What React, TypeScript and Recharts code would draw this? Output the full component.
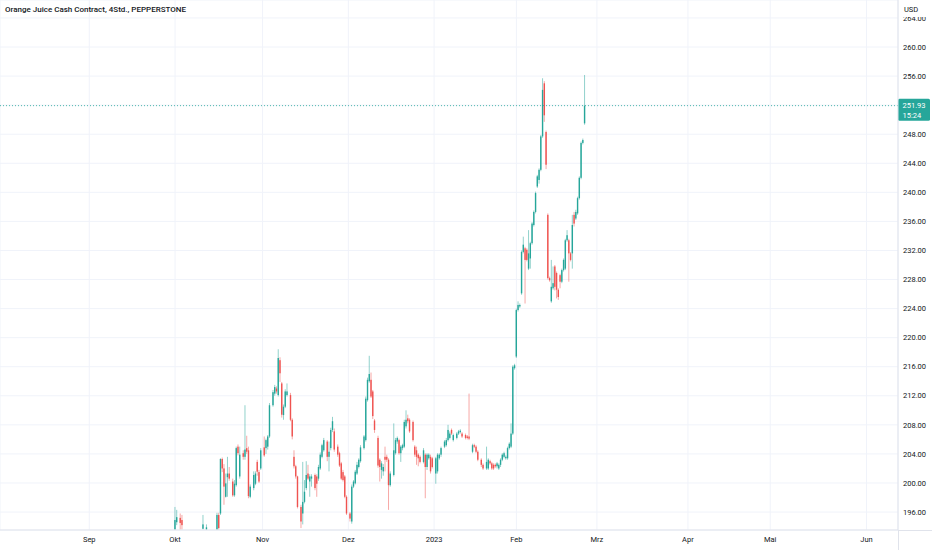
import React from 'react';
import { ComposedChart, Bar, XAxis, YAxis, CartesianGrid, ReferenceLine } from 'recharts';

// [bar number, open, high, low, close] on 4h bars
const octCandles = [
    [100, 193.6, 196.7, 193.6, 194.9],
    [101, 194.6, 196.3, 194.2, 195.3],
    [103, 195.2, 195.8, 193.6, 194.5],
    [104, 194.9, 195.6, 193.6, 194.2],
    [116, 193.7, 195.6, 193.6, 194.3],
    [118, 193.6, 194.3, 193.6, 193.9],
    [124, 193.6, 195.9, 193.6, 195.6],
    [125, 195.6, 195.9, 193.6, 193.8],
    [126, 195.8, 203.4, 195.6, 203.3],
    [127, 203.3, 203.5, 201.5, 202.0],
    [128, 202.0, 202.6, 197.0, 199.5],
    [129, 198.1, 201.3, 198.0, 199.95],
    [130, 200.8, 203.6, 198.1, 201.3],
    [131, 201.3, 202.2, 200.3, 200.6],
    [133, 200.2, 200.6, 198.1, 198.3],
    [134, 198.3, 200.4, 198.1, 199.9],
    [135, 199.7, 205.0, 199.5, 204.8],
    [136, 205.0, 205.3, 203.8, 204.1],
    [137, 200.9, 205.0, 200.6, 203.9],
    [139, 204.1, 204.5, 203.2, 203.6],
    [140, 203.6, 210.7, 203.2, 204.6],
    [141, 204.8, 206.5, 204.0, 204.3],
    [142, 204.5, 205.0, 197.9, 198.2],
    [143, 198.1, 199.8, 197.9, 199.5],
    [145, 199.3, 201.6, 199.0, 201.1],
    [146, 199.9, 201.6, 199.7, 201.3],
    [147, 202.9, 203.2, 201.0, 201.55],
    [148, 201.5, 201.8, 200.0, 200.2],
    [149, 202.0, 204.8, 201.8, 204.5],
];

const novCandles = [
    [151, 204.9, 206.4, 203.6, 203.8],
    [152, 204.8, 206.1, 204.0, 205.9],
    [153, 205.0, 206.6, 204.6, 206.4],
    [154, 206.4, 211.0, 206.2, 210.7],
    [156, 210.7, 212.8, 210.5, 212.5],
    [157, 212.3, 213.5, 212.0, 213.2],
    [158, 213.0, 213.3, 212.3, 212.6],
    [159, 212.1, 218.4, 211.9, 217.2],
    [160, 216.9, 217.3, 213.9, 215.1],
    [161, 213.7, 213.9, 209.0, 209.4],
    [162, 209.35, 210.8, 208.7, 210.5],
    [163, 210.5, 212.9, 210.3, 212.6],
    [164, 212.1, 213.7, 211.9, 212.6],
    [166, 212.1, 212.4, 208.5, 208.7],
    [167, 208.7, 208.9, 206.0, 206.4],
    [168, 203.6, 204.5, 202.0, 202.3],
    [169, 202.3, 202.5, 200.6, 200.9],
    [170, 200.9, 201.0, 196.5, 196.7],
    [172, 196.7, 197.0, 193.8, 194.7],
    [173, 195.8, 202.9, 194.3, 197.4],
    [174, 197.4, 200.4, 197.2, 198.8],
    [175, 199.3, 203.0, 199.0, 201.1],
    [176, 201.3, 202.5, 200.4, 200.6],
    [177, 200.2, 201.2, 198.1, 200.9],
    [178, 200.6, 201.2, 199.5, 200.9],
    [180, 201.1, 201.3, 199.0, 199.3],
    [181, 200.9, 201.2, 198.1, 199.9],
    [182, 200.6, 202.5, 200.3, 202.2],
    [183, 202.0, 204.2, 201.8, 203.9],
    [184, 203.6, 205.4, 203.4, 205.2],
    [185, 204.5, 206.2, 204.3, 205.9],
    [187, 205.7, 205.9, 203.0, 203.6],
    [188, 203.6, 205.7, 201.6, 204.3],
    [189, 204.8, 207.6, 204.5, 207.3],
    [190, 207.3, 209.1, 207.0, 208.5],
    [191, 207.1, 207.5, 204.3, 204.6],
    [193, 205.0, 205.3, 203.6, 203.9],
    [194, 204.1, 204.3, 202.2, 202.4],
    [195, 202.7, 202.9, 200.4, 200.6],
    [196, 201.5, 201.8, 200.2, 200.4],
    [197, 200.9, 201.1, 197.9, 198.1],
    [198, 198.1, 198.3, 195.6, 195.8],
];

const decCandles = [
    [200, 195.8, 196.0, 194.7, 195.1],
    [201, 194.7, 199.8, 194.4, 199.5],
    [202, 199.5, 200.4, 199.3, 200.2],
    [203, 199.95, 201.8, 199.8, 201.55],
    [204, 201.3, 202.9, 201.1, 202.5],
    [205, 202.2, 203.4, 202.0, 203.2],
    [206, 203.0, 205.2, 202.8, 204.9],
    [208, 204.8, 206.6, 204.6, 206.4],
    [209, 205.9, 211.9, 205.7, 211.6],
    [210, 211.4, 214.5, 211.2, 214.2],
    [211, 214.0, 217.5, 213.8, 215.0],
    [212, 214.2, 215.2, 211.7, 211.9],
    [213, 212.6, 212.8, 208.8, 209.2],
    [214, 208.6, 208.8, 206.9, 207.3],
    [216, 206.2, 206.5, 202.1, 202.4],
    [217, 203.2, 203.4, 200.2, 202.2],
    [218, 201.8, 203.0, 200.6, 202.7],
    [219, 201.6, 202.6, 201.0, 202.2],
    [220, 203.6, 205.0, 201.6, 203.2],
    [221, 203.6, 203.9, 202.9, 203.2],
    [222, 203.2, 203.4, 196.3, 199.7],
    [223, 199.7, 201.6, 199.5, 201.3],
    [225, 201.1, 208.2, 200.9, 204.5],
    [226, 204.1, 206.2, 203.9, 205.9],
    [227, 205.7, 206.4, 205.4, 206.2],
    [228, 205.9, 206.1, 203.9, 204.1],
    [229, 204.1, 205.2, 202.9, 205.0],
    [230, 204.8, 205.4, 204.5, 205.2],
    [231, 205.0, 208.7, 204.8, 208.4],
    [232, 207.8, 210.0, 207.5, 208.7],
    [233, 208.9, 209.4, 208.2, 208.5],
    [234, 208.7, 208.9, 206.9, 207.1],
    [236, 208.4, 208.6, 205.7, 205.9],
    [237, 205.0, 205.2, 203.6, 203.9],
    [238, 204.5, 205.0, 202.5, 203.6],
    [239, 203.9, 204.1, 202.3, 203.4],
    [240, 203.6, 203.8, 202.7, 202.9],
    [242, 202.9, 204.8, 202.7, 204.5],
    [243, 203.9, 204.1, 197.9, 202.2],
    [244, 202.2, 204.1, 201.8, 203.9],
    [245, 203.4, 204.1, 203.2, 203.9],
    [246, 203.6, 203.9, 201.3, 201.6],
    [247, 203.4, 203.6, 202.0, 202.2],
];

const janCandles = [
    [249, 201.3, 203.6, 199.9, 203.4],
    [250, 201.6, 204.1, 201.3, 203.9],
    [251, 203.4, 204.1, 203.2, 203.9],
    [252, 203.9, 205.0, 203.6, 204.8],
    [254, 205.0, 205.9, 204.8, 205.7],
    [255, 205.2, 206.2, 205.0, 205.9],
    [256, 205.9, 208.0, 205.7, 207.3],
    [257, 206.2, 207.1, 206.0, 206.8],
    [258, 207.3, 207.5, 206.6, 206.8],
    [259, 205.9, 206.8, 205.7, 206.6],
    [261, 206.2, 207.0, 206.0, 206.8],
    [262, 206.8, 207.3, 206.6, 207.1],
    [263, 207.0, 207.4, 206.8, 207.2],
    [264, 206.8, 207.0, 206.2, 206.4],
    [266, 206.6, 206.8, 206.0, 206.2],
    [267, 206.4, 206.6, 206.0, 206.2],
    [268, 206.4, 212.3, 205.9, 206.1],
    [270, 204.3, 205.4, 204.1, 205.2],
    [271, 205.2, 205.4, 204.8, 205.0],
    [272, 205.0, 205.2, 204.1, 204.3],
    [273, 204.3, 204.5, 203.0, 203.2],
    [275, 203.2, 203.4, 202.2, 202.5],
    [276, 202.5, 202.7, 201.8, 202.0],
    [278, 202.0, 205.0, 201.8, 202.9],
    [279, 202.0, 203.4, 201.8, 203.2],
    [280, 203.0, 203.2, 202.5, 202.7],
    [281, 202.7, 202.9, 201.8, 202.0],
    [282, 202.5, 202.7, 201.8, 202.0],
    [283, 202.5, 202.7, 202.1, 202.3],
    [284, 202.3, 202.9, 202.0, 202.7],
    [285, 202.0, 202.7, 201.8, 202.5],
    [286, 202.5, 203.4, 202.2, 203.2],
    [287, 203.2, 204.1, 203.0, 203.9],
    [288, 203.6, 204.3, 203.4, 204.1],
    [289, 203.4, 203.8, 203.2, 203.6],
    [290, 203.4, 205.0, 203.2, 204.8],
    [291, 204.8, 205.6, 204.6, 205.4],
    [292, 205.0, 208.2, 204.8, 206.8],
    [293, 206.8, 216.2, 206.6, 216.0],
    [294, 215.8, 216.4, 215.6, 216.2],
];

const febCandles = [
    [295, 217.4, 224.0, 217.2, 223.8],
    [296, 223.8, 225.0, 223.6, 224.5],
    [297, 224.3, 224.7, 224.1, 224.5],
    [298, 226.1, 232.0, 225.9, 231.8],
    [299, 231.8, 233.9, 231.6, 232.8],
    [300, 232.3, 232.5, 224.7, 230.7],
    [301, 232.1, 232.3, 230.5, 230.7],
    [302, 229.5, 234.8, 229.3, 231.6],
    [303, 230.9, 233.2, 229.5, 233.0],
    [304, 233.0, 235.9, 232.8, 235.7],
    [305, 235.5, 237.5, 235.3, 237.3],
    [306, 237.3, 240.1, 237.1, 239.9],
    [307, 240.8, 242.4, 240.6, 242.2],
    [308, 241.7, 243.3, 241.2, 243.1],
    [309, 243.1, 247.9, 242.9, 247.7],
    [310, 247.7, 255.7, 247.5, 254.1],
    [311, 255.0, 255.3, 249.7, 250.6],
    [312, 248.3, 248.5, 243.2, 243.8],
    [313, 236.9, 237.1, 228.0, 228.2],
    [314, 228.2, 228.4, 227.7, 227.9],
    [315, 225.0, 230.7, 224.8, 227.0],
    [316, 226.8, 229.8, 226.6, 227.5],
    [317, 229.8, 230.0, 226.5, 227.0],
    [318, 228.9, 229.1, 225.4, 226.6],
    [319, 226.6, 226.8, 225.2, 225.6],
    [320, 228.6, 228.8, 226.8, 227.7],
    [321, 227.7, 229.5, 227.5, 229.3],
    [322, 229.3, 230.9, 229.1, 230.7],
    [323, 229.5, 233.6, 229.3, 233.4],
    [324, 233.4, 234.8, 233.2, 234.1],
    [325, 233.4, 233.6, 227.7, 231.6],
    [326, 231.6, 231.8, 230.5, 230.7],
    [327, 231.6, 236.9, 229.5, 235.5],
    [328, 236.9, 237.3, 235.3, 235.7],
    [329, 236.4, 237.6, 236.2, 237.3],
    [330, 237.1, 239.4, 236.9, 239.2],
    [331, 239.2, 242.2, 239.0, 242.0],
    [332, 242.0, 247.0, 241.8, 246.8],
    [333, 246.8, 247.4, 246.6, 247.2],
    [334, 249.5, 256.15, 249.3, 251.93],
];

const monthTicks = [51, 100, 150, 199, 248, 295, 341, 393, 440, 495];
const monthLabels = ['Sep', 'Okt', 'Nov', 'Dez', '2023', 'Feb', 'Mrz', 'Apr', 'Mai', 'Jun'];
const priceTicks = [196, 200, 204, 208, 212, 216, 220, 224, 228, 232, 236, 240, 244, 248, 252, 256, 260, 264];
const lastPrice = 251.93;
const lastTime = '15:24';

const UP = '#26a69a';
const DOWN = '#ef5350';
const FONT = 'Roboto, "Noto Sans", sans-serif';

const candles = [...octCandles, ...novCandles, ...decCandles, ...janCandles, ...febCandles].map(
    ([bar, open, high, low, close]) => ({ bar, open, high, low, close, range: [low, high] })
);

const Candle = (props: any) => {
    const { x, y, width, height, payload } = props;
    if (!payload || height == null) return null;
    const { open, close, high, low } = payload;
    const color = close >= open ? UP : DOWN;
    const top = Math.min(y, y + height);
    const h = Math.abs(height);
    const k = h / (high - low || 1);
    const py = (p: number) => top + (high - p) * k;
    const cx = x + width / 2;
    const bodyTop = py(Math.max(open, close));
    const bodyH = Math.max(1, Math.abs(py(open) - py(close)));
    return (
        <g>
            <line x1={cx} x2={cx} y1={top} y2={top + h} stroke={color} strokeOpacity={0.5} strokeWidth={1} />
            <rect x={cx - 0.7} y={bodyTop} width={1.4} height={bodyH} fill={color} />
        </g>
    );
};

const PriceTag = (props: any) => {
    const vb = props.viewBox;
    if (!vb) return null;
    const left = vb.x + vb.width;
    const cy = vb.y;
    return (
        <g fontFamily={FONT} fontSize={7.5}>
            <rect x={left} y={cy - 7} width={32} height={22} rx={1.5} fill={UP} />
            <text x={left + 4.5} y={cy + 2.5} fill="#fff">{lastPrice.toFixed(2)}</text>
            <text x={left + 4.5} y={cy + 12} fill="#fff">{lastTime}</text>
        </g>
    );
};

// like TradingView, an axis label that sits under the price tag is not drawn
const priceLabel = (v: number) => (Math.abs(v - lastPrice) < 2 ? '' : v.toFixed(2));

export default function App() {
    return (
        <div style={{ position: 'relative', width: 932, height: 550, background: '#fff', fontFamily: FONT }}>
            <style>{'body{margin:0}'}</style>
            <ComposedChart width={932} height={550} data={candles} margin={{ top: 0, right: 0, bottom: 0, left: 0 }}>
                <CartesianGrid stroke="#f0f3fa" />
                <XAxis
                    dataKey="bar"
                    type="number"
                    domain={[0, 513]}
                    allowDataOverflow
                    ticks={monthTicks}
                    interval={0}
                    tickFormatter={(v) => monthLabels[monthTicks.indexOf(v)] ?? ''}
                    height={20}
                    tickSize={0}
                    tickMargin={7}
                    axisLine={{ stroke: '#e0e3eb' }}
                    tick={{ fontSize: 7.5, fill: '#131722', fontFamily: FONT }}
                />
                <YAxis
                    orientation="right"
                    width={34}
                    domain={[193.53, 266.47]}
                    allowDataOverflow
                    ticks={priceTicks}
                    interval={0}
                    tickFormatter={priceLabel}
                    tickSize={0}
                    tickMargin={5}
                    axisLine={{ stroke: '#e0e3eb' }}
                    tick={{ fontSize: 7.5, fill: '#131722', fontFamily: FONT, textAnchor: 'start' }}
                />
                <ReferenceLine
                    y={lastPrice}
                    stroke={UP}
                    strokeDasharray="1 2"
                    strokeOpacity={0.8}
                    label={<PriceTag />}
                />
                <Bar dataKey="range" barSize={2} shape={<Candle />} isAnimationActive={false} />
            </ComposedChart>
            <div
                style={{
                    position: 'absolute', left: 5, top: 5, fontSize: 8, fontWeight: 500,
                    color: '#131722', whiteSpace: 'nowrap',
                }}
            >
                Orange Juice Cash Contract, 4Std., PEPPERSTONE
            </div>
            <div
                style={{
                    position: 'absolute', left: 899, top: 0, width: 33, height: 17, background: '#fff',
                    fontSize: 7.5, color: '#131722', lineHeight: '20px', paddingLeft: 5, boxSizing: 'border-box',
                }}
            >
                USD
            </div>
            <div style={{ position: 'absolute', left: 898, top: 530, width: 34, height: 1, background: '#e0e3eb' }} />
            <div style={{ position: 'absolute', left: 898, top: 530, width: 1, height: 20, background: '#e0e3eb' }} />
        </div>
    );
}
